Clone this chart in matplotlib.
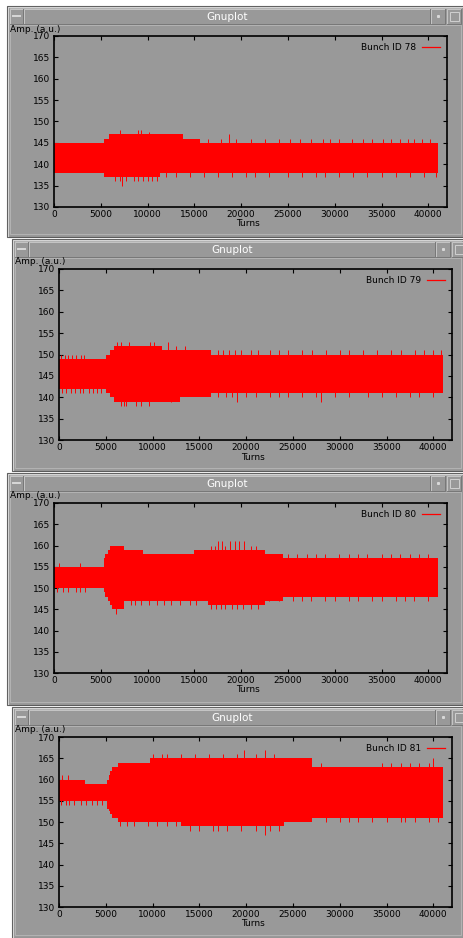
"""Four gnuplot windows: bunch amplitude vs turns for bunch IDs 78-81"""

import numpy as np
import matplotlib
matplotlib.use('Agg')
from matplotlib import pyplot as plt
from matplotlib.patches import Rectangle

W, H = 463, 938
GREY = '#999999'

bunch_ids = ['78', '79', '80', '81']

# band envelope per bunch: segment edges (turns), upper and lower amplitude per segment
turns_78 = [0, 5300, 5900, 11300, 13800, 15600, 41000]
upper_78 = [145, 146, 147, 147, 146, 145]
lower_78 = [138, 137, 137, 138, 138, 138]

turns_79 = [0, 5000, 5500, 5900, 11000, 12900, 16200, 41000]
upper_79 = [149, 150, 151, 152, 151, 151, 150]
lower_79 = [142, 141, 140, 139, 139, 140, 141]

turns_80 = [0, 5300, 5500, 5800, 6000, 6200, 7500, 9500, 15000, 16500, 22500, 24500, 41000]
upper_80 = [155, 157, 158, 159, 160, 160, 159, 158, 159, 159, 158, 157]
lower_80 = [150, 149, 148, 147, 146, 145, 147, 147, 147, 146, 147, 148]

turns_81 = [0, 2800, 5100, 5300, 5500, 5700, 6300, 9700, 13000, 24000, 27000, 41000]
upper_81 = [160, 159, 160, 161, 162, 163, 164, 165, 165, 165, 163]
lower_81 = [155, 155, 153, 152.5, 152, 151, 150, 150, 149, 150, 151]

# isolated samples poking out of the band: (turn, amplitude)
spikes_78 = [(7000, 148), (9000, 148), (9300, 148), (10200, 147.5), (18700, 147),
             (16500, 146), (17800, 146), (19500, 146), (21000, 146), (22500, 146),
             (24000, 146), (25200, 146), (26300, 146), (27500, 146), (28700, 146),
             (29500, 146), (30500, 146), (31800, 146), (33000, 146), (34000, 146),
             (35200, 146), (36000, 146), (37000, 146), (37800, 146), (38500, 146),
             (39300, 146), (40200, 146),
             (6500, 136), (7000, 136), (7300, 135), (7700, 136), (8500, 136),
             (9000, 136), (9500, 136), (10000, 136), (10500, 136), (11000, 136),
             (12000, 137), (13000, 137), (14500, 137), (16000, 137), (17500, 137),
             (19000, 137), (20500, 137), (21500, 137), (23000, 137), (25000, 137),
             (26500, 137), (28000, 137), (29000, 137), (30500, 137), (32000, 137),
             (33500, 137), (35000, 137), (36500, 137), (38000, 137), (39500, 137),
             (40800, 137)]

spikes_79 = [(200, 150), (600, 150), (1000, 150), (1400, 150), (1800, 150),
             (2300, 150), (2700, 150),
             (300, 141), (800, 141), (1300, 141), (1700, 141), (2200, 141),
             (2600, 141), (3200, 141), (3600, 141), (4100, 141), (4500, 141),
             (6200, 153), (6600, 153), (7500, 153), (9700, 153), (10200, 153),
             (11700, 153), (12500, 152), (13500, 152),
             (6600, 138), (6900, 138), (7200, 138), (8200, 138), (8800, 138),
             (9600, 138),
             (17000, 151), (17500, 151), (18200, 151), (18800, 151), (19500, 151),
             (20500, 151), (21300, 151), (22500, 151), (23500, 151), (24500, 151),
             (26000, 151), (27000, 151), (28500, 151), (30000, 151), (31000, 151),
             (32500, 151), (34000, 151), (35500, 151), (36500, 151), (38000, 151),
             (39000, 151), (40000, 151), (40800, 151),
             (12000, 139), (17000, 140), (17800, 140), (18500, 140), (19000, 139),
             (20000, 140), (21000, 140), (22500, 140), (23500, 140), (24500, 140),
             (26000, 140), (27500, 140), (28000, 139), (29500, 140), (31000, 140),
             (33000, 140), (34500, 140), (36000, 140), (37500, 140), (38500, 140),
             (40000, 140)]

spikes_80 = [(500, 156), (2800, 156),
             (300, 149), (1000, 149), (1500, 149), (2300, 149), (2800, 149),
             (3300, 149),
             (6600, 144),
             (16800, 160), (17200, 160), (17500, 161), (18000, 161), (18300, 160),
             (18800, 161), (19300, 161), (19800, 161), (20300, 161), (21000, 160),
             (21600, 160),
             (8200, 146), (8700, 146), (9300, 146), (10200, 146), (11000, 146),
             (11800, 146), (12500, 146), (13500, 146), (14500, 146), (15200, 146),
             (16800, 145), (17300, 145), (17800, 145), (18300, 145), (19000, 145),
             (19600, 145), (20200, 145), (21000, 145), (21800, 145),
             (25000, 158), (26000, 158), (27000, 158), (28000, 158), (29000, 158),
             (30500, 158), (31500, 158), (32500, 158), (33500, 158), (35000, 158),
             (36000, 158), (37000, 158), (38000, 158), (39000, 158), (40000, 158),
             (23000, 147), (24000, 147), (25500, 147), (26500, 147), (27500, 147),
             (29000, 147), (30000, 147), (31500, 147), (32500, 147), (34000, 147),
             (35000, 147), (36500, 147), (37500, 147), (38500, 147), (40000, 147)]

spikes_81 = [(300, 161), (1000, 161),
             (10000, 166), (11000, 166), (11500, 166), (13000, 166), (14500, 166),
             (16000, 166), (17500, 166), (19000, 166), (19800, 167), (21000, 166),
             (22000, 167), (23000, 166),
             (28000, 164), (34500, 164), (35500, 164), (36500, 164), (37500, 164),
             (38500, 164), (39500, 164), (40000, 165),
             (200, 154), (700, 154), (1100, 154), (1600, 154), (2300, 154),
             (2900, 154), (3500, 154), (4100, 154), (4600, 154),
             (6500, 149), (7300, 149), (8000, 149), (9500, 149), (10500, 149),
             (11500, 149), (12500, 149),
             (14000, 148), (15000, 148), (16500, 148), (17000, 148), (18000, 148),
             (19500, 148), (21000, 148), (22000, 147), (22500, 148), (23500, 148),
             (28500, 150), (30000, 150), (31000, 150), (32000, 150), (33500, 150),
             (35000, 150), (36500, 150), (37000, 150), (38000, 150), (39500, 150),
             (40500, 150)]

series = [(turns_78, upper_78, lower_78, spikes_78),
          (turns_79, upper_79, lower_79, spikes_79),
          (turns_80, upper_80, lower_80, spikes_80),
          (turns_81, upper_81, lower_81, spikes_81)]

# window geometry in screenshot pixels: (x0, y0, x1, y1)
windows = [(7, 6, 463, 237), (12, 239, 463, 471), (7, 473, 463, 705), (12, 707, 463, 938)]
plot_boxes = [(54, 36, 447, 207), (59, 269, 452, 440), (54, 503, 447, 673), (59, 737, 452, 907)]

plt.rcParams['font.family'] = ['DejaVu Sans']
fig = plt.figure(figsize=(W / 100, H / 100), dpi=100)
fig.patch.set_facecolor('white')

bg = fig.add_axes([0, 0, 1, 1])
bg.set_xlim(0, W)
bg.set_ylim(H, 0)
bg.axis('off')


def draw_window(x0, y0, x1, y1):
    bg.add_patch(Rectangle((x0, y0), x1 - x0, y1 - y0, fc=GREY, ec='#5c5c5c', lw=0.8))
    bg.plot([x0 + 1, x0 + 1, x1], [y1 - 1, y0 + 1, y0 + 1], color='#d4d4d4', lw=0.8)
    bg.add_patch(Rectangle((x0 + 3, y0 + 2), x1 - x0 - 5, y1 - y0 - 5, fill=False,
                           ec='#b8b8b8', lw=0.6))
    ty0, ty1 = y0 + 3, y0 + 18
    boxes = [(x0 + 3, x0 + 16), (x0 + 17, x0 + 423), (x0 + 424, x0 + 438), (x0 + 440, x0 + 454)]
    for bx0, bx1 in boxes:
        bg.add_patch(Rectangle((bx0, ty0), bx1 - bx0, ty1 - ty0, fc=GREY, ec='#c6c6c6', lw=0.7))
        bg.plot([bx0, bx1, bx1], [ty1, ty1, ty0], color='#6a6a6a', lw=0.6)
    ym = (ty0 + ty1) / 2
    bg.plot([x0 + 6, x0 + 13], [ym, ym], color='#d8d8d8', lw=1.4)
    bg.plot([x0 + 431], [ym], marker='s', ms=1.2, color='#d8d8d8')
    bg.add_patch(Rectangle((x0 + 443, ty0 + 3), 9, ty1 - ty0 - 6, fill=False, ec='#d0d0d0', lw=0.7))
    bg.text((x0 + 17 + x0 + 423) / 2, ym + 0.5, 'Gnuplot', color='white', fontsize=7.5,
            ha='center', va='center')
    bg.plot([x0 + 3, x1 - 3], [ty1 + 1, ty1 + 1], color='#bdbdbd', lw=0.5)


for (x0, y0, x1, y1) in windows:
    draw_window(x0, y0, x1, y1)

for bid, (turns, upper, lower, spikes), (wx0, wy0, wx1, wy1), (px0, py0, px1, py1) in zip(
        bunch_ids, series, windows, plot_boxes):
    ax = fig.add_axes([px0 / W, 1 - py1 / H, (px1 - px0) / W, (py1 - py0) / H])
    ax.set_facecolor(GREY)

    up = np.append(upper, upper[-1])
    lo = np.append(lower, lower[-1])
    ax.fill_between(turns, lo, up, step='post', color='red', lw=0, zorder=2)
    mid = (np.mean(upper) + np.mean(lower)) / 2
    sx = [s[0] for s in spikes]
    sy = [s[1] for s in spikes]
    ax.vlines(sx, mid, sy, color='red', lw=0.7, zorder=2)
    ax.plot([], [], color='red', lw=0.9, label='Bunch ID ' + bid)

    ax.set_xlim(0, 42000)
    ax.set_ylim(130, 170)
    ax.set_xticks(range(0, 40001, 5000))
    ax.set_yticks(range(130, 171, 5))
    ax.tick_params(direction='in', top=True, right=True, length=3, width=0.8,
                   labelsize=6.5, colors='black')
    ax.tick_params(axis='x', pad=2.5)
    ax.tick_params(axis='y', pad=3)
    for sp in ax.spines.values():
        sp.set_linewidth(1.2)
        sp.set_color('black')

    leg = ax.legend(loc='upper right', frameon=False, markerfirst=False, fontsize=6.5,
                    handlelength=2.0, handletextpad=0.6, borderaxespad=0.4, borderpad=0.4)

    bg.text(wx0 + 3, py0 - 7, 'Amp. (a.u.)', fontsize=6.5, ha='left', va='center')
    bg.text((px0 + px1) / 2 - 3, py1 + 17, 'Turns', fontsize=6.5, ha='center', va='center')

fig.savefig('out.png', dpi=100, facecolor='white')
